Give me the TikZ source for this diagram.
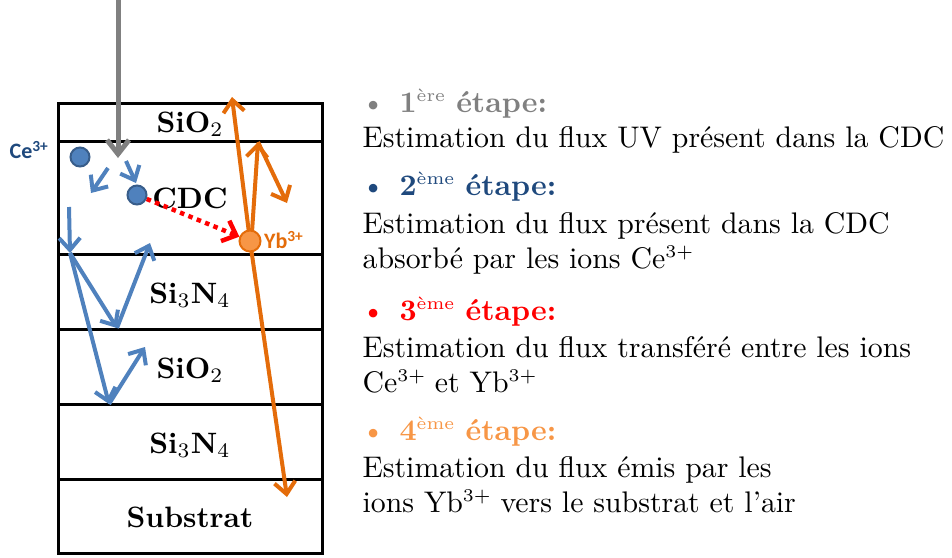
\documentclass[tikz,border=0pt]{standalone}
\usepackage{fontspec}
\newfontfamily\calibri{Carlito}
\usetikzlibrary{arrows.meta}
\definecolor{greyc}{RGB}{128,128,128}
\definecolor{navy}{RGB}{31,73,125}
\definecolor{bluec}{RGB}{79,129,189}
\definecolor{bluedk}{RGB}{56,93,138}
\definecolor{redc}{RGB}{255,0,0}
\definecolor{orangedk}{RGB}{228,108,10}
\definecolor{orangelt}{RGB}{247,150,70}
\newcommand\supx[1]{\raisebox{0.8ex}{\fontsize{6}{6}\selectfont\mdseries #1}}
\begin{document}
\begin{tikzpicture}[x=1pt,y=-1pt,
  lay/.style={font=\bfseries, scale=2.95, anchor=base, inner sep=0},
  txt/.style={scale=2.98, anchor=base west, inner sep=0},
  head/.style={font=\bfseries, scale=2.98, anchor=base west, inner sep=0},
  bul/.style={scale=2.98, anchor=base west, inner sep=0},
  barb/.style={-{Straight Barb[length=12pt,width=21pt]}},
  bluearr/.style={barb, draw=bluec, line width=4pt},
  orarr/.style={barb, draw=orangedk, line width=4pt},
  grayarr/.style={-{Straight Barb[length=14pt,width=22pt]}, draw=greyc, line width=5pt},
  redarr/.style={-{Straight Barb[length=12pt,width=22pt]}, draw=redc, line width=4.5pt, dash pattern=on 4.5pt off 4.5pt},
  cedot/.style={circle, fill=bluec, draw=bluedk, line width=2pt, minimum size=19pt, inner sep=0},
  ybdot/.style={circle, fill=orangelt, draw=orangedk, line width=2pt, minimum size=21pt, inner sep=0},
  ionlab/.style={font=\calibri\bfseries\fontsize{22}{22}\selectfont, inner sep=0},
  layer/.style={line width=3pt, draw=black}
]
\useasboundingbox (0,0) rectangle (952,557);
% layers
\draw[layer] (58,103) rectangle (322,553);
\foreach \yy in {141,254,329,404,479} \draw[layer] (58,\yy) -- (322,\yy);
\node[lay] (l1) at (190,132) {SiO\textsubscript{\mdseries 2}};
\node[lay] (l2) at (190,208) {CDC};
\node[lay] (l3) at (190,303) {Si\textsubscript{\mdseries 3}N\textsubscript{\mdseries 4}};
\node[lay] (l4) at (190,378) {SiO\textsubscript{\mdseries 2}};
\node[lay] (l5) at (190,453) {Si\textsubscript{\mdseries 3}N\textsubscript{\mdseries 4}};
\node[lay] (l6) at (190,527) {Substrat};
% coordinates
\coordinate (g0) at (118,-5);
\coordinate (g1) at (118,158);
\coordinate (b1s) at (108,168);
\coordinate (b1e) at (91,193);
\coordinate (b2s) at (126,161);
\coordinate (b2e) at (136,183);
\coordinate (b3s) at (69,207);
\coordinate (r1) at (70,253);
\coordinate (r2) at (117,328);
\coordinate (b4e) at (150,243);
\coordinate (r3) at (109,404);
\coordinate (b5e) at (145,347);
\coordinate (ybc) at (250,241);
\coordinate (o1) at (232,97);
\coordinate (o2) at (287,497);
\coordinate (o3s) at (252,232);
\coordinate (o3) at (258,142);
\coordinate (o4) at (287,203);
% grey
\draw[grayarr] (g0) -- (g1);
% blue
\draw[bluearr] (b1s) -- (b1e);
\draw[bluearr] (b2s) -- (b2e);
\draw[bluearr] (b3s) -- (r1);
\draw[bluearr] (r1) -- (r2);
\draw[bluearr] (r2) -- (b4e);
\draw[bluearr] (r1) -- (r3);
\draw[bluearr] (r3) -- (b5e);
% orange
\draw[orarr] (ybc) -- (o1);
\draw[orarr] (ybc) -- (o2);
\draw[orarr] (o3s) -- (o3);
\draw[orarr] (o3) -- (o4);
% dots
\node[cedot] (ce1) at (80,157) {};
\node[cedot] (ce2) at (137,195) {};
\node[ybdot] (yb) at (ybc) {};
\draw[redarr] (ce2) -- (yb);
\node[ionlab, text=navy] (celab) at (29,150) {Ce\textsuperscript{3+}};
\node[ionlab, text=orangedk, anchor=west] (yblab) at (264,240) {Yb\textsuperscript{3+}};
% right text
\node[bul, text=greyc] (p1) at (361,112) {\textbullet};
\node[head, text=greyc] (h1) at (399,112) {1\supx{ère} étape:};
\node[txt] (t1) at (362,147) {Estimation du flux UV présent dans la CDC};
\node[bul, text=navy] (p2) at (361,195) {\textbullet};
\node[head, text=navy] (h2) at (399,195) {2\supx{ème} étape:};
\node[txt] (t2a) at (362,233) {Estimation du flux présent dans la CDC};
\node[txt] (t2b) at (362,268) {absorbé par les ions Ce\supx{3+}};
\node[bul, text=redc] (p3) at (361,320) {\textbullet};
\node[head, text=redc] (h3) at (399,320) {3\supx{ème} étape:};
\node[txt] (t3a) at (362,357) {Estimation du flux transféré entre les ions};
\node[txt] (t3b) at (362,392) {Ce\supx{3+} et Yb\supx{3+}};
\node[bul, text=orangelt] (p4) at (361,440) {\textbullet};
\node[head, text=orangelt] (h4) at (399,440) {4\supx{ème} étape:};
\node[txt] (t4a) at (362,477) {Estimation du flux émis par les};
\node[txt] (t4b) at (362,512) {ions Yb\supx{3+} vers le substrat et l’air};
\end{tikzpicture}
\end{document}
